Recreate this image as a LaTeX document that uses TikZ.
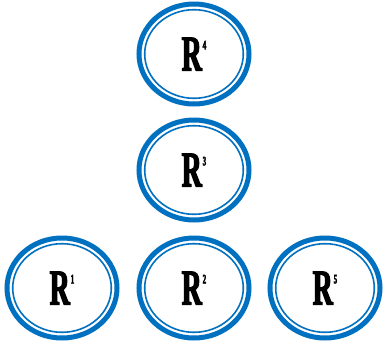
\documentclass[tikz,border=0pt]{standalone}
\usepackage{fontspec}
\usetikzlibrary{shapes.geometric}
\newfontfamily\rfont{Liberation Serif}[BoldFeatures={FakeBold=2.5,FakeStretch=0.55}]
\definecolor{ringblue}{RGB}{0,112,192}
\tikzset{
  ring/.style={ellipse, draw=ringblue, line width=5pt, fill=white,
    minimum width=110pt, minimum height=100pt, inner sep=0pt, outer sep=0pt},
  innerring/.style={draw=ringblue, line width=1.6pt},
  rlabel/.style={font=\rfont\bfseries\fontsize{50}{50}\selectfont, text=black}
}
\newcommand{\rtext}[1]{R\kern1pt\raisebox{21pt}{\fontsize{13}{13}\selectfont #1}}
\begin{document}
\begin{tikzpicture}[x=1pt,y=-1pt]
\useasboundingbox (0,0) rectangle (383,346);
\foreach \name/\px/\py/\d in {r4/194/54/4, r3/194/170/3, r1/62/288/1, r2/194/288/2, r5/325/288/5}{
  \node[ring] (\name) at (\px,\py) {};
  \draw[innerring] (\name.center) ellipse [x radius=49.3pt, y radius=44.3pt];
  \node[rlabel] (\name l) at (\name.center) {\rtext{\d}};
}
\end{tikzpicture}
\end{document}
